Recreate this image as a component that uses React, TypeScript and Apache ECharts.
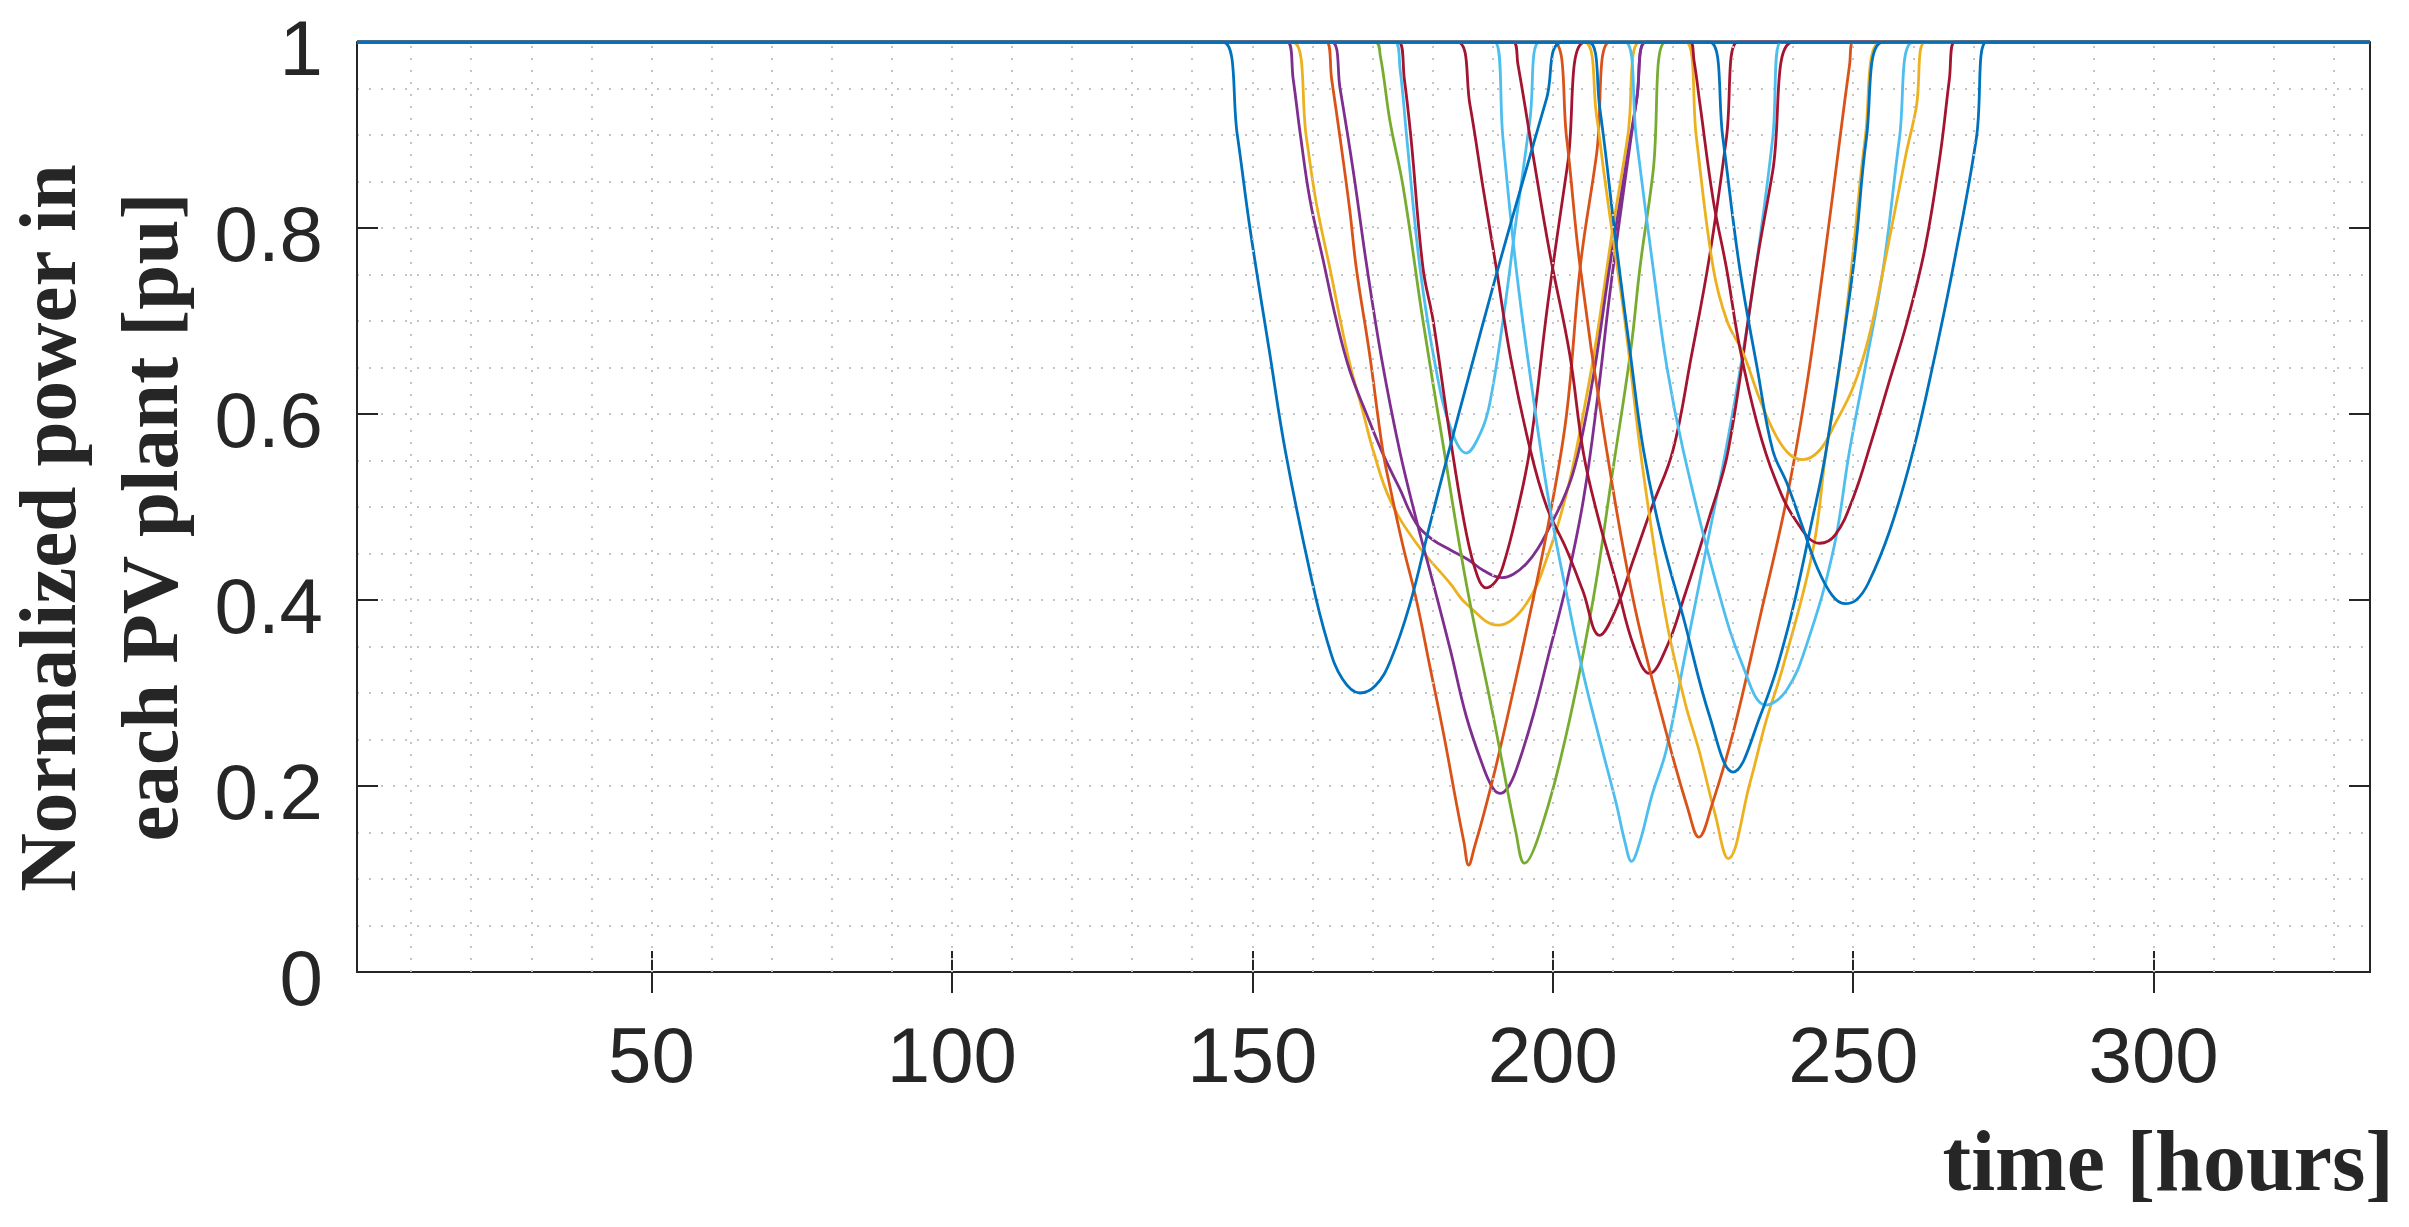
import React, { useEffect, useRef } from "react";
import * as echarts from "echarts";

// ---- axes ----
const X_MIN = 1;
const X_MAX = 336;
const xTickValues = [50, 100, 150, 200, 250, 300];
const xGridValues = [10, 20, 30, 40, 50, 60, 70, 80, 90, 100, 110, 120, 130, 140, 150, 160, 170, 180, 190, 200, 210, 220, 230, 240, 250, 260, 270, 280, 290, 300, 310, 320, 330];
const Y_MIN = 0;
const Y_MAX = 1;
const Y_INTERVAL = 0.2;

// ---- colours (MATLAB default order) ----
const BLUE = "#0072BD";
const ORANGE = "#D95319";
const YELLOW = "#EDB120";
const PURPLE = "#7E2F8E";
const GREEN = "#77AC30";
const LBLUE = "#4DBEEE";
const RED = "#A2142F";

// ---- curves: [time, pu] (flat at 1 elsewhere) ----
const yellowP = [[156.7, 1], [159, 0.897], [160.7, 0.825], [162.9, 0.757], [166, 0.66], [168.5, 0.6], [170.1, 0.561], [172.9, 0.508], [177.3, 0.461], [182.9, 0.418], [185.6, 0.396], [190.9, 0.373], [195.6, 0.396], [199.5, 0.454], [202.3, 0.515], [203.9, 0.561], [207, 0.67], [210, 0.8], [212.5, 0.9], [214.5, 1]];
const purpleO = [[155.8, 1], [156.8, 0.96], [158, 0.9], [159.6, 0.83], [161.8, 0.765], [164, 0.7], [166.2, 0.647], [169, 0.6], [171.8, 0.556], [174.5, 0.52], [177.3, 0.482], [180, 0.465], [182.9, 0.454], [186, 0.443], [188.4, 0.432], [191.5, 0.424], [193.5, 0.428], [195.6, 0.439], [197.5, 0.455], [199.5, 0.479], [201.5, 0.505], [203.3, 0.535], [205, 0.58], [207, 0.65], [209.5, 0.76], [212, 0.86], [214, 0.94], [215.5, 1]];
const purpleN = [[163.2, 1], [164.6, 0.95], [166.8, 0.861], [169, 0.761], [171.5, 0.66], [174.5, 0.561], [177.3, 0.486], [180.1, 0.418], [183, 0.345], [185.6, 0.275], [188.4, 0.221], [190, 0.198], [191.2, 0.192], [192.5, 0.198], [193.9, 0.217], [196.7, 0.275], [199.5, 0.346], [202.3, 0.418], [205.1, 0.508], [207.5, 0.62], [209.5, 0.73], [212, 0.85], [214, 0.94], [215.5, 1]];
const orangeB = [[162.3, 1], [163.2, 0.96], [164.6, 0.897], [166.2, 0.82], [167.3, 0.757], [169.5, 0.665], [171.7, 0.561], [172.9, 0.522], [175, 0.46], [177.3, 0.4], [179.5, 0.33], [181.8, 0.257], [184, 0.18], [185.2, 0.14], [186, 0.115], [187, 0.135], [188.4, 0.167], [190.5, 0.22], [193, 0.29], [196.7, 0.4], [199.5, 0.49], [202.3, 0.6], [204.6, 0.76], [207.3, 0.88], [209.5, 1]];
const greenC = [[170.4, 1], [171.3, 0.985], [172.9, 0.915], [175.1, 0.844], [178.4, 0.7], [181.8, 0.565], [185.6, 0.418], [190.1, 0.275], [193.9, 0.149], [195.3, 0.117], [197.8, 0.149], [202.3, 0.257], [206.7, 0.4], [210, 0.54], [213, 0.67], [214.5, 0.757], [216.7, 0.861], [218.8, 1]];
const lblueR = [[173.7, 1], [174.6, 0.97], [175.7, 0.897], [177.9, 0.757], [180.6, 0.647], [183, 0.585], [185.6, 0.558], [188, 0.58], [189.5, 0.611], [191.7, 0.7], [193.9, 0.808], [196.2, 0.916], [197.8, 1]];
const redQ = [[174.3, 1], [175.3, 0.96], [176.4, 0.897], [178.4, 0.757], [180.1, 0.7], [182.9, 0.576], [185.6, 0.472], [187.5, 0.425], [188.9, 0.413], [190.5, 0.42], [191.7, 0.436], [193.9, 0.49], [196.2, 0.563], [199.2, 0.72], [202.5, 0.87], [205.4, 1]];
const redM = [[184.1, 1], [186.2, 0.933], [188.4, 0.843], [190.6, 0.757], [193, 0.66], [196.2, 0.563], [199, 0.5], [202.3, 0.454], [205, 0.41], [207.8, 0.362], [210.5, 0.39], [213.4, 0.443], [216.5, 0.5], [220, 0.561], [223, 0.66], [226.1, 0.77], [228.9, 0.897], [230.8, 1]];
const lblueD = [[190.3, 1], [191.7, 0.897], [193.9, 0.757], [196.7, 0.62], [199.5, 0.5], [202.5, 0.4], [205.1, 0.32], [208, 0.245], [210.6, 0.18], [212, 0.14], [213.1, 0.119], [214.5, 0.14], [216.5, 0.19], [218.9, 0.239], [222, 0.34], [225.5, 0.454], [228.8, 0.561], [231.5, 0.66], [233.8, 0.757], [236.6, 0.897], [238, 1]];
const redL = [[193.4, 1], [194.2, 0.976], [196.7, 0.879], [199.5, 0.773], [202.8, 0.665], [205.1, 0.558], [207.5, 0.49], [210.6, 0.418], [213.5, 0.35], [216.1, 0.321], [219, 0.35], [221.7, 0.4], [226.1, 0.49], [229.2, 0.561], [233.8, 0.757], [236.6, 0.861], [240, 1]];
const yellowE = [[205.2, 1], [207.3, 0.92], [208.5, 0.86], [210, 0.79], [212, 0.7], [215, 0.54], [218.8, 0.382], [222, 0.29], [224.3, 0.239], [227, 0.17], [229.2, 0.122], [232.8, 0.203], [235.5, 0.27], [238.3, 0.328], [243.3, 0.454], [245.5, 0.561], [247.5, 0.64], [249.7, 0.757], [252, 0.897], [254.7, 1]];
const orangeF = [[200.1, 1], [202.3, 0.897], [204.5, 0.761], [208.5, 0.58], [213.4, 0.4], [218.9, 0.257], [222.5, 0.175], [224.3, 0.145], [226.5, 0.18], [230, 0.257], [234.5, 0.382], [238.9, 0.508], [242, 0.62], [245, 0.757], [247.8, 0.897], [249.4, 0.976], [250, 1]];
const lblueG = [[212, 1], [213.9, 0.897], [216.7, 0.757], [219, 0.65], [221.7, 0.561], [227.2, 0.418], [231.7, 0.328], [235.5, 0.287], [238.9, 0.303], [242.3, 0.353], [246.7, 0.454], [249.4, 0.561], [252, 0.65], [255, 0.757], [257.7, 0.897], [260, 1]];
const yellowK = [[222.1, 1], [223.9, 0.897], [226.7, 0.757], [229, 0.7], [231.7, 0.665], [234.5, 0.615], [237.2, 0.576], [239.5, 0.556], [241.6, 0.551], [244.4, 0.561], [247, 0.59], [250, 0.629], [252.5, 0.68], [255, 0.755], [258.8, 0.88], [260.5, 0.93], [262, 1]];
const redJ = [[222.8, 1], [223.5, 0.98], [224.5, 0.933], [226.7, 0.83], [228.9, 0.757], [231.1, 0.672], [234, 0.59], [237, 0.53], [240.5, 0.485], [244.4, 0.461], [247, 0.47], [250, 0.51], [253, 0.57], [256, 0.635], [259, 0.7], [262, 0.78], [264.5, 0.88], [266, 0.96], [266.9, 1]];
const blueA = [[145.1, 1], [147.5, 0.9], [149.6, 0.8], [152.9, 0.665], [155.5, 0.56], [159.6, 0.43], [162.5, 0.355], [165, 0.315], [167.9, 0.3], [170.5, 0.308], [173, 0.335], [176.2, 0.395], [179.5, 0.48], [182.5, 0.555], [186, 0.64], [190.6, 0.75], [195, 0.85], [199, 0.94], [201.7, 1]];
const blueH = [[205.9, 1], [207.8, 0.93], [210.6, 0.78], [213, 0.66], [215.1, 0.561], [218, 0.47], [221.7, 0.382], [226.1, 0.275], [230, 0.215], [234.5, 0.275], [238.9, 0.364], [243.3, 0.49], [245.5, 0.561], [250, 0.757], [252.2, 0.897], [255, 1]];
const blueI = [[226.1, 1], [228.3, 0.897], [231.1, 0.757], [234, 0.65], [236.6, 0.561], [239, 0.525], [241.5, 0.48], [244, 0.435], [246.5, 0.405], [248.6, 0.396], [250.5, 0.4], [252.5, 0.418], [256.1, 0.475], [260, 0.561], [263.5, 0.66], [266.6, 0.757], [270.5, 0.897], [272.2, 1]];

const curveList: [string, number[][]][] = [
  [YELLOW, yellowP], [PURPLE, purpleO], [PURPLE, purpleN], [ORANGE, orangeB], [GREEN, greenC],
  [LBLUE, lblueR], [RED, redQ], [RED, redM], [LBLUE, lblueD], [RED, redL], [YELLOW, yellowE],
  [ORANGE, orangeF], [LBLUE, lblueG], [YELLOW, yellowK], [RED, redJ], [BLUE, blueA], [BLUE, blueH], [BLUE, blueI],
];

const AXIS_COLOR = "#262626";
const GRID_COLOR = "#c4c4c4";

export default function App() {
  const ref = useRef<HTMLDivElement>(null);
  useEffect(() => {
    document.body.style.margin = "0";
    if (!ref.current) return;
    const chart = echarts.init(ref.current, undefined, { renderer: "svg" });

    const dotted = { color: GRID_COLOR, width: 2, type: [2, 10] as any };

    const series: any[] = [
      {
        type: "line",
        name: "grid",
        data: [[X_MIN, Y_MAX]],
        symbol: "none",
        lineStyle: { opacity: 0 },
        z: 1,
        silent: true,
        markLine: {
          silent: true,
          symbol: "none",
          label: { show: false },
          lineStyle: dotted,
          emphasis: { disabled: true },
          data: xGridValues.map((v) => ({ xAxis: v })),
        },
      },
    ];
    curveList.forEach(([color, pts], i) => {
      series.push({
        type: "line",
        name: "plant" + (i + 1),
        data: [[X_MIN, 1], ...pts, [X_MAX, 1]],
        symbol: "none",
        smooth: 0.4,
        lineStyle: { color, width: 2.8 },
        z: 3,
      });
    });

    const tickStyle = { color: AXIS_COLOR, width: 2 };
    chart.setOption({
      animation: false,
      grid: { left: 357, top: 42, right: 39, bottom: 255, containLabel: false },
      xAxis: [
        {
          type: "value",
          min: X_MIN,
          max: X_MAX,
          position: "bottom",
          axisLine: { show: true, lineStyle: tickStyle },
          axisTick: { show: true, inside: true, length: 21, customValues: xTickValues, lineStyle: tickStyle },
          axisLabel: {
            show: true,
            customValues: xTickValues,
            fontSize: 78,
            lineHeight: 78,
            fontFamily: "Liberation Sans",
            color: AXIS_COLOR,
            margin: 44,
          },
          splitLine: { show: false },
        },
        {
          type: "value",
          min: X_MIN,
          max: X_MAX,
          position: "top",
          axisLine: { show: true, lineStyle: tickStyle },
          axisTick: { show: true, inside: true, length: 21, customValues: xTickValues, lineStyle: tickStyle },
          axisLabel: { show: false },
          splitLine: { show: false },
        },
      ],
      yAxis: [
        {
          type: "value",
          min: Y_MIN,
          max: Y_MAX,
          interval: Y_INTERVAL,
          position: "left",
          axisLine: { show: true, lineStyle: tickStyle },
          axisTick: { show: true, inside: true, length: 21, lineStyle: tickStyle },
          axisLabel: {
            fontSize: 78,
            lineHeight: 12,
            verticalAlign: "top",
            fontFamily: "Liberation Sans",
            color: AXIS_COLOR,
            margin: 34,
          },
          splitLine: { show: true, lineStyle: dotted },
          minorTick: { show: false, splitNumber: 4 },
          minorSplitLine: { show: true, lineStyle: dotted },
        },
        {
          type: "value",
          min: Y_MIN,
          max: Y_MAX,
          interval: Y_INTERVAL,
          position: "right",
          axisLine: { show: true, lineStyle: tickStyle },
          axisTick: { show: true, inside: true, length: 21, lineStyle: tickStyle },
          axisLabel: { show: false },
          splitLine: { show: false },
        },
      ],
      graphic: [
        {
          type: "text",
          x: 48,
          y: 528,
          rotation: Math.PI / 2,
          style: {
            text: "Normalized power in",
            font: "bold 81px 'Liberation Serif'",
            fill: AXIS_COLOR,
            align: "center",
            verticalAlign: "middle",
          },
        },
        {
          type: "text",
          x: 150,
          y: 517,
          rotation: Math.PI / 2,
          style: {
            text: "each PV plant [pu]",
            font: "bold 81px 'Liberation Serif'",
            fill: AXIS_COLOR,
            align: "center",
            verticalAlign: "middle",
          },
        },
        {
          type: "text",
          x: 2394,
          y: 1161,
          style: {
            text: "time [hours]",
            font: "bold 86px 'Liberation Serif'",
            fill: AXIS_COLOR,
            align: "right",
            verticalAlign: "middle",
          },
        },
      ],
      series,
    });
    return () => chart.dispose();
  }, []);
  return <div ref={ref} style={{ width: 2409, height: 1227 }} />;
}
